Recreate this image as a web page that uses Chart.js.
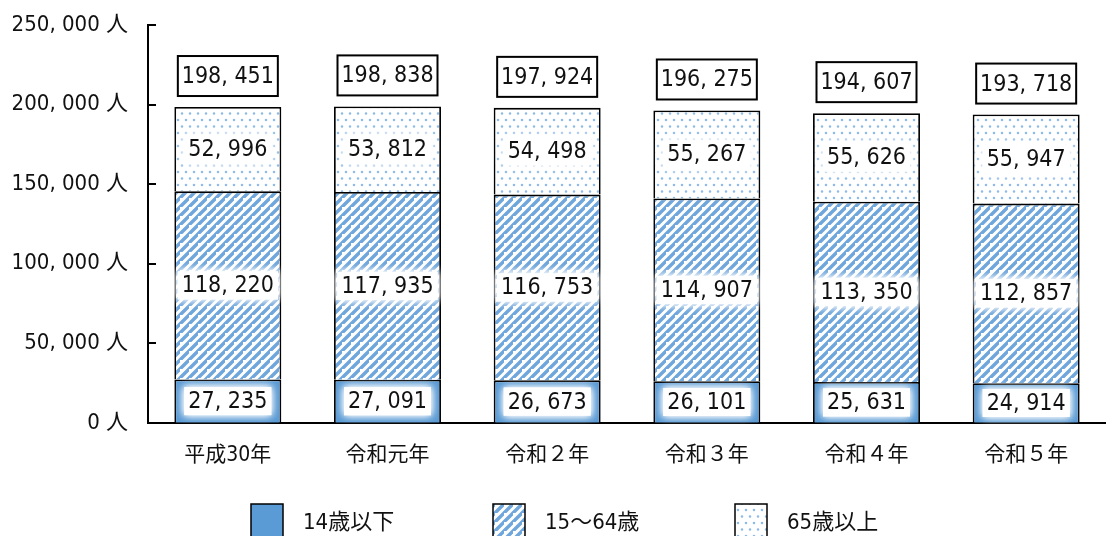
<!DOCTYPE html>
<html>
<head>
<meta charset="utf-8">
<script src="https://cdn.jsdelivr.net/npm/chart.js@4"></script>
<style>
  html, body { margin: 0; padding: 0; background: #fff; }
  #wrap { width: 1106px; height: 536px; }
</style>
</head>
<body>
<div id="wrap"><canvas id="chart"></canvas></div>
<script>
const categories = ['平成30年', '令和元年', '令和２年', '令和３年', '令和４年', '令和５年'];
const under14 = [27235, 27091, 26673, 26101, 25631, 24914];
const age15to64 = [118220, 117935, 116753, 114907, 113350, 112857];
const over65 = [52996, 53812, 54498, 55267, 55626, 55947];
const totals = [198451, 198838, 197924, 196275, 194607, 193718];
const yTicks = [0, 50000, 100000, 150000, 200000, 250000];

const FONT = '"DejaVu Sans Condensed", "Noto Sans CJK JP", sans-serif';
const BLUE = '#5b9bd5';

function fmt(v) {
    return v.toLocaleString('en-US').replace(/,/g, ', ');
}

// stripe pattern "////"
function stripePattern() {
    const n = 9;
    const c = document.createElement('canvas');
    c.width = n; c.height = n;
    const g = c.getContext('2d');
    g.fillStyle = '#fff';
    g.fillRect(0, 0, n, n);
    g.strokeStyle = '#6fa6dc';
    g.lineWidth = 3.4;
    g.beginPath();
    g.moveTo(-2, n + 2); g.lineTo(n + 2, -2);
    g.moveTo(-n - 2, 2); g.lineTo(2, -n - 2);
    g.moveTo(-2, 2 * n + 2); g.lineTo(2 * n + 2, -2);
    g.stroke();
    return g.createPattern(c, 'repeat');
}

// small dots pattern
function dotPattern() {
    const c = document.createElement('canvas');
    c.width = 8; c.height = 13;
    const g = c.getContext('2d');
    g.fillStyle = '#fff';
    g.fillRect(0, 0, 8, 13);
    g.fillStyle = '#8fbbe6';
    g.beginPath();
    g.arc(2, 3, 1.3, 0, Math.PI * 2);
    g.arc(6, 9.5, 1.3, 0, Math.PI * 2);
    g.fill();
    return g.createPattern(c, 'repeat');
}

// value labels with white glow, boxed totals, inward y ticks, legend
const labelPlugin = {
    id: 'labels',
    afterDatasetsDraw(chart) {
        const ctx = chart.ctx;
        ctx.save();
        ctx.font = '23px ' + FONT;
        ctx.textAlign = 'center';
        ctx.textBaseline = 'middle';
        chart.data.datasets.forEach((ds, di) => {
            const meta = chart.getDatasetMeta(di);
            meta.data.forEach((bar, i) => {
                const y = (bar.y + bar.base) / 2;
                const txt = fmt(ds.data[i]);
                const w = ctx.measureText(txt).width;
                ctx.save();
                ctx.shadowColor = '#fff';
                ctx.shadowBlur = 8;
                ctx.fillStyle = '#fff';
                ctx.fillRect(bar.x - w / 2 - 4, y - 14, w + 8, 28);
                ctx.fillRect(bar.x - w / 2 - 4, y - 14, w + 8, 28);
                ctx.restore();
                ctx.fillStyle = '#111';
                ctx.fillText(txt, bar.x, y + 1);
            });
        });
        const top = chart.getDatasetMeta(chart.data.datasets.length - 1);
        top.data.forEach((bar, i) => {
            const cy = bar.y - 31;
            const bw = 100, bh = 40;
            ctx.fillStyle = '#fff';
            ctx.fillRect(bar.x - bw / 2, cy - bh / 2, bw, bh);
            ctx.strokeStyle = '#000';
            ctx.lineWidth = 2;
            ctx.strokeRect(bar.x - bw / 2, cy - bh / 2, bw, bh);
            ctx.fillStyle = '#111';
            ctx.fillText(fmt(totals[i]), bar.x, cy + 1);
        });
        // inward tick marks on y axis
        const ys = chart.scales.y;
        ctx.strokeStyle = '#000';
        ctx.lineWidth = 2;
        yTicks.forEach(v => {
            const py = Math.round(ys.getPixelForValue(v));
            ctx.beginPath();
            ctx.moveTo(ys.right, py);
            ctx.lineTo(ys.right + 8, py);
            ctx.stroke();
        });
        // legend (boxes run off the bottom edge as in the original)
        ctx.font = '22px ' + FONT;
        ctx.textAlign = 'left';
        chart.data.datasets.forEach((ds, di) => {
            const x = 251 + di * 242;
            const y = 504;
            ctx.fillStyle = ds.backgroundColor;
            ctx.fillRect(x, y, 32, 40);
            ctx.strokeStyle = '#000';
            ctx.lineWidth = 1.5;
            ctx.strokeRect(x, y, 32, 40);
            ctx.fillStyle = '#111';
            ctx.fillText(ds.label, x + 52, 523);
        });
        ctx.restore();
    }
};

const common = {
    borderColor: '#000',
    borderWidth: 1.8,
    barPercentage: 0.67,
    categoryPercentage: 1.0
};

new Chart(document.getElementById('chart'), {
    type: 'bar',
    data: {
        labels: categories,
        datasets: [
            { label: '14歳以下', data: under14, backgroundColor: BLUE, ...common },
            { label: '15〜64歳', data: age15to64, backgroundColor: stripePattern(), ...common },
            { label: '65歳以上', data: over65, backgroundColor: dotPattern(), ...common }
        ]
    },
    options: {
        responsive: true,
        maintainAspectRatio: false,
        animation: false,
        layout: { padding: { left: 6, right: 0, top: 25, bottom: 56 } },
        scales: {
            x: {
                stacked: true,
                grid: { display: false },
                border: { display: true, color: '#000', width: 2 },
                ticks: { color: '#111', font: { size: 21, family: FONT }, padding: 12 }
            },
            y: {
                stacked: true,
                min: 0,
                max: 250000,
                afterBuildTicks: s => { s.ticks = yTicks.map(v => ({ value: v })); },
                afterFit: s => { s.width = 142; s.paddingTop = 0; s.paddingBottom = 0; },
                grid: { display: false, drawTicks: false },
                border: { display: true, color: '#000', width: 2 },
                ticks: {
                    color: '#111',
                    font: { size: 22, family: FONT },
                    padding: 20,
                    callback: v => fmt(v) + ' 人'
                }
            }
        },
        plugins: {
            legend: { display: false },
            tooltip: { enabled: false }
        }
    },
    plugins: [labelPlugin]
});
</script>
</body>
</html>
